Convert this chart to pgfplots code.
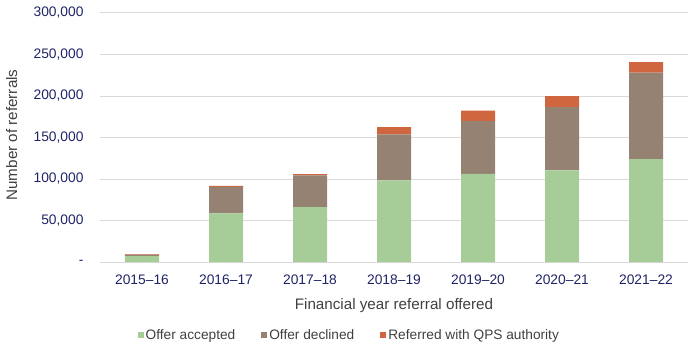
\documentclass[border=0pt]{standalone}
\usepackage{pgfplots}
\pgfplotsset{compat=1.18}
\usepackage{fontspec}
\setmainfont{Liberation Sans}
\definecolor{acc}{HTML}{A6CD98}
\definecolor{dec}{HTML}{968273}
\definecolor{qps}{HTML}{D0663F}
\definecolor{navy}{HTML}{1F2466}
\definecolor{txt}{HTML}{404040}
\definecolor{gridc}{HTML}{D9D9D9}
\begin{document}
\begin{tikzpicture}
\useasboundingbox (-100pt,-88pt) rectangle (600pt,262pt);
\begin{axis}[
  at={(0pt,0pt)}, anchor=south west,
  scale only axis, width=588pt, height=249pt,
  ybar stacked, bar width=34pt,
  xmin=-0.5, xmax=6.5, ymin=0, ymax=300000,
  scaled y ticks=false,
  xtick={0,1,2,3,4,5,6},
  xticklabels={2015--16,2016--17,2017--18,2018--19,2019--20,2020--21,2021--22},
  ytick={0,50000,100000,150000,200000,250000,300000},
  yticklabels={{-},{50,000},{100,000},{150,000},{200,000},{250,000},{300,000}},
  ticklabel style={font=\fontsize{13.8}{16}\selectfont, text=navy},
  xticklabel style={yshift=-9pt},
  yticklabel style={xshift=-13pt},
  major tick length=0pt,
  axis line style={draw=none},
  ymajorgrids, grid style={gridc, line width=1pt},
  xlabel={Financial year referral offered},
  ylabel={Number of referrals},
  label style={font=\fontsize{15.2}{17}\selectfont, text=txt},
  xlabel style={at={(axis description cs:0.5,-0.175)}, anchor=center},
  ylabel style={at={(axis description cs:-0.15,0.51)}, anchor=center},
  legend columns=3,
  legend style={draw=none, fill=none, at={(axis description cs:0.424,-0.293)}, anchor=center,
    font=\fontsize{13.7}{15}\selectfont, text=txt,
    /tikz/every even column/.append style={column sep=24pt}},
  legend image code/.code={\fill[#1] (0pt,-3pt) rectangle (6pt,3pt);},
]
\addplot[fill=acc, draw=none] coordinates {(0,7000) (1,58500) (2,66000) (3,98300) (4,106300) (5,110400) (6,124000)};
\addplot[fill=dec, draw=none] coordinates {(0,1800) (1,32000) (2,38300) (3,55500) (4,63300) (5,76100) (6,104300)};
\addplot[fill=qps, draw=none] coordinates {(0,800) (1,1200) (2,1600) (3,8800) (4,12800) (5,13300) (6,12600)};
\legend{Offer accepted, Offer declined, Referred with QPS authority}
\end{axis}
\end{tikzpicture}
\end{document}
